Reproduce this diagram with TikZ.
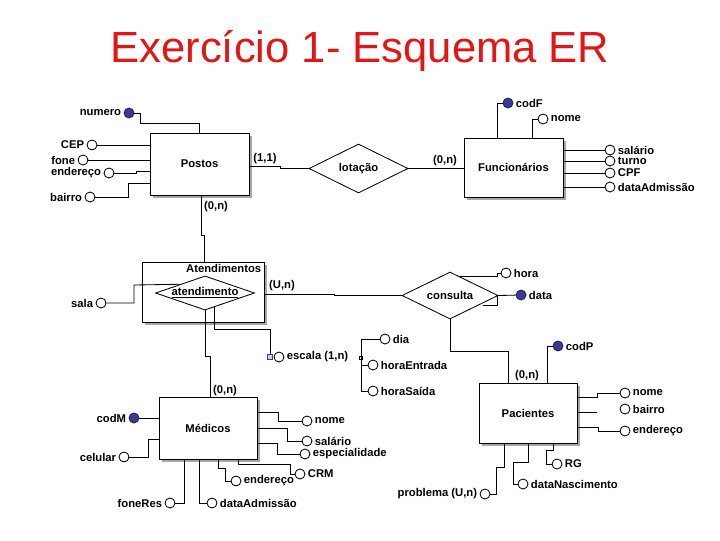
\documentclass[tikz,border=0pt]{standalone}
\usepackage{fontspec}
\setmainfont{Liberation Sans}
\usepackage{tikz}
\usetikzlibrary{shapes.geometric, shadows}

\definecolor{keyblue}{RGB}{58,58,150}
\definecolor{titlered}{RGB}{226,22,22}

\begin{document}
\begin{tikzpicture}[x=0.025cm, y=-0.025cm, line width=0.6pt,
  font=\bfseries\fontsize{8}{9.6}\selectfont,
  entity/.style={draw, fill=white, drop shadow={shadow xshift=2pt, shadow yshift=-2pt, fill=gray!70, opacity=1}},
  relation/.style={draw, diamond, inner sep=0pt, aspect=2},
  attr/.style={draw, circle, fill=white, minimum size=0.25cm, inner sep=0pt},
  keyattr/.style={attr, fill=keyblue, draw=keyblue!60!black},
  card/.style={inner sep=1pt},
  every label/.style={inner sep=1.5pt}]
  \useasboundingbox (0,0) rectangle (720,540);

  \node[font=\fontsize{31}{36}\selectfont, text=titlered, anchor=base] (title) at (360,62) {Exercício 1- Esquema ER};

  % entities and relationships
  \node[entity, minimum width=2.475cm, minimum height=1.55cm] (Postos) at (199.5,164) {Postos};
  \node[entity, minimum width=2.475cm, minimum height=1.475cm] (Funcionarios) at (513.5,167.5) {Funcionários};
  \node[entity, minimum width=3.05cm, minimum height=1.5cm] (Atendimentos) at (203,292) {};
  \node[anchor=north east, inner sep=2pt] (atendlabel) at (Atendimentos.north east) {Atendimentos};
  \node[relation, aspect=2.9, minimum width=2.35cm, minimum height=0.8cm] (atend) at (205,293) {\underline{atendimento}};
  \node[entity, minimum width=2.45cm, minimum height=1.55cm] (Medicos) at (208,428) {Médicos};
  \node[entity, minimum width=2.45cm, minimum height=1.5cm] (Pacientes) at (528,413) {Pacientes};
  \node[relation, minimum width=2.475cm, minimum height=1.225cm] (lotacao) at (358.5,168.5) {lotação};
  \node[relation, minimum width=2.4cm, minimum height=1.175cm] (consulta) at (450,295.5) {consulta};

  % attributes
  \node[keyattr, label=left:numero] (numero) at (129,113) {};
  \node[attr, label=left:CEP] (cepP) at (92,145) {};
  \node[attr, label=left:fone] (foneP) at (83,160) {};
  \node[attr, label=left:endereço] (endP) at (109,173) {};
  \node[attr, label=left:bairro] (bairroP) at (90,197) {};

  \node[keyattr, label=right:codF] (codF) at (508,103) {};
  \node[attr, label=right:nome] (nomeF) at (543,119) {};
  \node[attr, label=right:salário] (salarioF) at (610,150) {};
  \node[attr, label=right:turno] (turnoF) at (610,161) {};
  \node[attr, label=right:CPF] (cpfF) at (610,173) {};
  \node[attr, label=right:dataAdmissão] (admF) at (610,187) {};

  \node[attr, label=left:sala] (sala) at (101,303) {};
  \node[draw=keyblue, fill=keyblue!25, minimum size=3pt, inner sep=0pt] (escq) at (270,357) {};
  \node[attr, label=right:{escala (1,n)}] (escala) at (279,357) {};
  \node[draw, inner sep=0pt, minimum size=2pt] (escdot) at (361,358) {};
  \node[attr, label=right:dia] (dia) at (385,339) {};
  \node[attr, label=right:horaEntrada] (horaEnt) at (373,365) {};
  \node[attr, label=right:horaSaída] (horaSai) at (373,391) {};

  \node[attr, label=right:hora] (hora) at (506,273) {};
  \node[keyattr, label=right:data] (data) at (521,295) {};
  \node[keyattr, label=right:codP] (codP) at (558,346) {};

  \node[attr, label=right:nome] (nomeP) at (625,393) {};
  \node[attr, label=right:bairro] (bairroPac) at (625,409) {};
  \node[attr, label=right:endereço] (endPac) at (625,431) {};
  \node[attr, label=right:RG] (rg) at (557,464) {};
  \node[attr, label=right:dataNascimento] (dataNasc) at (523,484) {};
  \node[attr, label=left:{problema (U,n)}] (problema) at (485,494) {};

  \node[keyattr, label=left:codM] (codM) at (134,418) {};
  \node[attr, label=left:celular] (celular) at (124,457) {};
  \node[attr, label=right:nome] (nomeM) at (307,421) {};
  \node[attr, label=right:salário] (salarioM) at (307,441) {};
  \node[attr, label=right:especialidade] (espec) at (305,454) {};
  \node[attr, label=right:CRM] (crm) at (300,474) {};
  \node[attr, label=right:endereço] (endM) at (236,481) {};
  \node[attr, label=right:dataAdmissão] (admM) at (212,503) {};
  \node[attr, label=left:foneRes] (foneRes) at (170,503) {};

  % cardinalities
  \node[card] (c11) at (265,159) {(1,1)};
  \node[card] (c0nF) at (445,161) {(0,n)};
  \node[card] (c0nPo) at (216,207) {(0,n)};
  \node[card] (cUn) at (282,286) {(U,n)};
  \node[card] (c0nM) at (225,391) {(0,n)};
  \node[card] (c0nPac) at (527,376) {(0,n)};

  % Postos
  \draw (numero) -| (140,123) -| (Postos.north);
  \draw (cepP) -- (Postos.west |- cepP);
  \draw (foneP) -- (Postos.west |- foneP);
  \draw (endP) -| (136,171) -- (Postos.west |- 0,171);
  \draw (bairroP) -| (128,183) -- (Postos.west |- 0,183);
  \draw (Postos.east |- 0,166) -- (280,166) |- (lotacao.west);
  \draw (lotacao.east) -- (Funcionarios.west |- lotacao.east);
  \draw (Postos.south -| 201,0) -- (201,235) -| (Atendimentos.north -| 204,0);

  % Funcionarios
  \draw (codF) -| (Funcionarios.north -| 497,0);
  \draw (nomeF) -| (Funcionarios.north -| 532,0);
  \draw (Funcionarios.east |- salarioF) -- (salarioF);
  \draw (Funcionarios.east |- turnoF) -- (turnoF);
  \draw (Funcionarios.east |- cpfF) -- (cpfF);
  \draw (Funcionarios.east |- admF) -- (admF);

  % Atendimentos
  \draw (sala) -| (134,285) -- (atend.north west);
  \draw (atend.south) -- ++(0,46) -| (Medicos.north -| 210,0);
  \draw (atend.-55) |- (270,329) -- (escq);
  \draw (dia) -| (361,391) -- (horaSai);
  \draw (escdot) |- (horaEnt);
  \draw (Atendimentos.east |- 0,294) -- (334,294) |- (consulta.west);

  % consulta
  \draw (consulta.62) -| (497,273) -- (hora);
  \draw (consulta.east) -- (data);
  \draw (consulta.east) ++(-1,0) |- ++(-14,10);
  \draw (consulta.south) |- (508,351) -- (Pacientes.north -| 508,0);

  % Pacientes
  \draw (codP) -| (Pacientes.north -| 547,0);
  \draw (Pacientes.east |- 0,397) -- (597,397) |- (nomeP);
  \coordinate (bairroend) at (597,412);
  \draw (Pacientes.east |- 0,412) -- (bairroend);
  \draw (Pacientes.east |- 0,427) -- (598,427) |- (endPac);
  \draw (Pacientes.south -| 553,0) -- (553,450) -| (546,464) -- (rg);
  \draw (Pacientes.south -| 528,0) -- (528,462) -| (513,484) -- (dataNasc);
  \draw (problema) -| (496,467) -| (Pacientes.south -| 504,0);

  % Medicos
  \draw (codM) -- (Medicos.west |- codM);
  \draw (celular) -| (148,439) -- (Medicos.west |- 0,439);
  \draw (Medicos.east |- 0,412) -| (278,421) -- (nomeM);
  \draw (Medicos.east |- 0,428) -| (287,441) -- (salarioM);
  \draw (Medicos.east |- 0,443) -| (277,454) -- (espec);
  \draw (Medicos.south -| 238,0) -- (238,464) -| (290,474) -- (crm);
  \draw (Medicos.south -| 218,0) -- (218,468) -| (225,481) -- (endM);
  \draw (Medicos.south -| 199,0) |- (admM);
  \draw (foneRes) -| (Medicos.south -| 184,0);
\end{tikzpicture}
\end{document}
